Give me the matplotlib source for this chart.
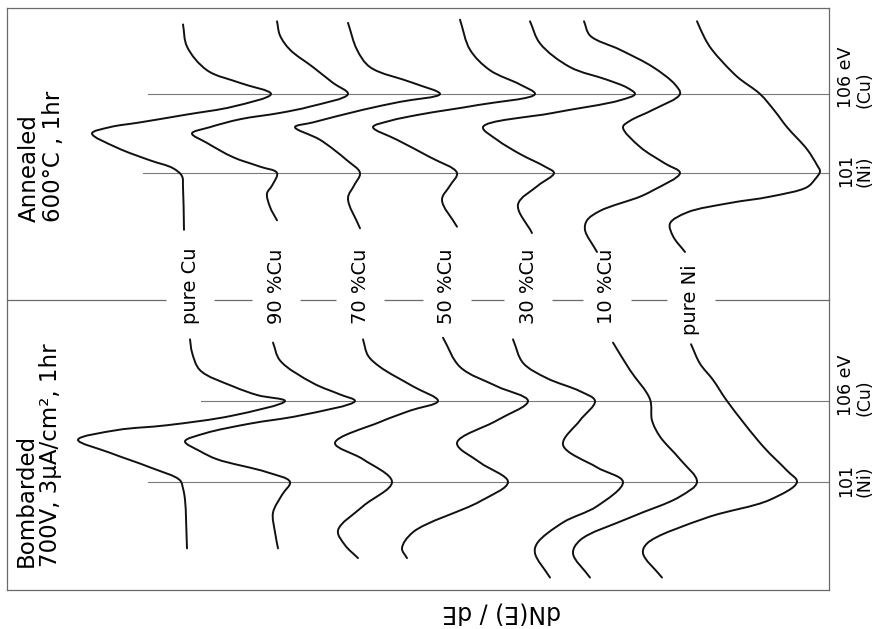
import numpy as np
import matplotlib
matplotlib.use("Agg")
import matplotlib.pyplot as plt
from matplotlib.path import Path
from matplotlib.patches import PathPatch

# Auger spectra, dN(E)/dE traces (x = signal with stacking offset, arb. units)
# energies in eV; one trace per alloy composition

compositions = ["pure Cu", "90 %Cu", "70 %Cu", "50 %Cu", "30 %Cu", "10 %Cu", "pure Ni"]
label_x = [190, 276, 360, 447, 528, 607, 691]
peak_energies = [106, 101]
peak_labels = ["106 eV\n(Cu)", "101\n(Ni)"]

# ---- annealed 600 C, 1 hr ----
ann_cu100_e = [110.4, 109.0, 107.5, 106.7, 106.0, 105.2, 104.7, 104.2, 103.9, 103.5, 102.6, 101.8, 101.3, 100.8, 100.1, 97.4]
ann_cu100_x = [183, 187, 207, 240, 271, 233, 187, 140, 110, 92, 117, 150, 173, 182, 183, 184]
ann_cu90_e = [110.6, 109.7, 108.8, 107.7, 106.7, 106.0, 105.2, 104.8, 104.4, 103.9, 103.5, 102.9, 102.0, 101.4, 101.0, 100.2, 99.7, 98.85, 98.0]
ann_cu90_x = [277, 280, 290, 313, 333, 348, 310, 280, 240, 210, 192, 207, 233, 260, 277, 272, 267, 270, 277]
ann_cu70_e = [110.5, 108.8, 107.7, 106.7, 106.0, 105.5, 105.0, 104.2, 103.9, 103.1, 101.8, 101.0, 100.2, 99.4, 97.5]
ann_cu70_x = [348, 357, 370, 413, 440, 400, 363, 313, 295, 320, 347, 360, 354, 348, 360]
ann_cu50_e = [110.7, 108.8, 107.5, 106.6, 106.0, 105.3, 104.7, 104.3, 103.9, 103.1, 102.0, 101.0, 100.2, 99.3, 97.6]
ann_cu50_x = [460, 470, 490, 520, 535, 478, 420, 390, 373, 397, 430, 457, 450, 442, 457]
ann_cu30_e = [110.6, 109.2, 107.7, 106.9, 106.4, 106.0, 105.6, 104.8, 103.9, 103.1, 102.2, 101.4, 101.0, 100.2, 99.0, 97.2]
ann_cu30_x = [530, 540, 570, 607, 627, 635, 620, 553, 483, 497, 520, 545, 554, 538, 518, 532]
ann_cu10_e = [110.6, 109.7, 108.8, 107.7, 106.6, 106.0, 105.0, 104.3, 103.9, 102.65, 101.6, 101.0, 99.9, 99.5, 98.6, 98.0, 97.4, 96.0]
ann_cu10_x = [584, 590, 620, 653, 675, 680, 653, 630, 623, 640, 665, 680, 653, 640, 600, 587, 585, 597]
ann_ni_e = [110.6, 109.5, 108.8, 107.1, 106.0, 104.9, 103.9, 102.5, 101.5, 101.1, 100.6, 100.1, 99.5, 99.1, 98.5, 97.8, 97.0, 96.0]
ann_ni_x = [697, 705, 712, 737, 760, 775, 787, 807, 817, 820, 815, 807, 770, 730, 687, 670, 673, 685]

# ---- bombarded 700 V, 3 uA/cm2, 1 hr ----
bom_cu100_e = [109.8, 109.0, 107.9, 106.9, 106.35, 106.0, 105.1, 104.5, 104.2, 103.6, 102.8, 101.9, 101.1, 100.6, 99.9, 96.9]
bom_cu100_x = [190, 192, 200, 233, 258, 285, 233, 167, 117, 78, 110, 150, 180, 183, 185, 187]
bom_cu90_e = [109.6, 108.5, 107.1, 106.4, 106.0, 105.1, 104.6, 104.0, 103.5, 102.9, 102.4, 101.6, 101.0, 100.2, 99.1, 97.9, 96.9]
bom_cu90_x = [273, 280, 313, 340, 355, 300, 250, 205, 185, 200, 217, 267, 290, 282, 273, 275, 278]
bom_cu70_e = [109.8, 108.8, 108.1, 106.9, 106.0, 105.4, 104.7, 103.4, 102.4, 101.0, 99.5, 98.0, 97.1, 96.3]
bom_cu70_x = [363, 368, 380, 413, 438, 410, 380, 335, 363, 392, 363, 338, 345, 358]
bom_cu50_e = [109.9, 108.1, 106.9, 106.0, 104.8, 103.4, 102.2, 101.0, 99.8, 97.9, 96.9, 96.3]
bom_cu50_x = [443, 460, 497, 528, 497, 457, 480, 508, 480, 413, 402, 407]
bom_cu30_e = [109.8, 108.35, 107.4, 106.6, 106.0, 104.8, 103.3, 101.9, 101.0, 99.5, 98.5, 97.2, 96.6, 95.1]
bom_cu30_x = [513, 523, 547, 580, 595, 580, 563, 597, 623, 597, 563, 537, 535, 550]
bom_cu10_e = [109.6, 107.9, 106.1, 104.8, 103.8, 102.4, 101.0, 100.1, 98.8, 97.4, 96.6, 95.1]
bom_cu10_x = [613, 630, 650, 652, 660, 680, 697, 680, 630, 580, 573, 590]
bom_ni_e = [109.5, 108.3, 107.3, 106.0, 103.2, 101.7, 101.0, 99.9, 98.8, 97.2, 96.6, 95.1]
bom_ni_x = [691, 700, 713, 727, 763, 787, 797, 770, 707, 647, 643, 662]

annealed = [(ann_cu100_x, ann_cu100_e), (ann_cu90_x, ann_cu90_e), (ann_cu70_x, ann_cu70_e),
            (ann_cu50_x, ann_cu50_e), (ann_cu30_x, ann_cu30_e), (ann_cu10_x, ann_cu10_e),
            (ann_ni_x, ann_ni_e)]
bombarded = [(bom_cu100_x, bom_cu100_e), (bom_cu90_x, bom_cu90_e), (bom_cu70_x, bom_cu70_e),
             (bom_cu50_x, bom_cu50_e), (bom_cu30_x, bom_cu30_e), (bom_cu10_x, bom_cu10_e),
             (bom_ni_x, bom_ni_e)]

frame_col = "#6a6a6a"
ref_col = "#7a7a7a"
xlim = (7, 829)
E_SCALE = 16.0  # roughly how many x units one eV spans on the page

fig = plt.figure(figsize=(8.75, 6.29), dpi=100)
ax_top = fig.add_axes([7 / 875, 1 - 300 / 629, 822 / 875, 292 / 629])
ax_bot = fig.add_axes([7 / 875, 1 - 590 / 629, 822 / 875, 290 / 629])


def setup(ax, ylim, hide):
    ax.set_xlim(*xlim)
    ax.set_ylim(*ylim)
    ax.set_xticks([])
    ax.set_yticks([])
    for s in ax.spines.values():
        s.set_color(frame_col)
        s.set_linewidth(0.9)
    ax.spines[hide].set_visible(False)
    ax.patch.set_alpha(0)


setup(ax_top, (92.96, 111.44), "bottom")
setup(ax_bot, (94.33, 112.23), "top")


def smooth_path(x, e):
    # centripetal catmull-rom handles -> cubic bezier path through the read points
    p = np.column_stack([x, np.asarray(e) * E_SCALE]).astype(float)
    q = np.vstack([2 * p[0] - p[1], p, 2 * p[-1] - p[-2]])
    verts = [p[0]]
    codes = [Path.MOVETO]
    for i in range(1, len(q) - 2):
        p0, p1, p2, p3 = q[i - 1], q[i], q[i + 1], q[i + 2]
        d1 = max(np.linalg.norm(p1 - p0), 1e-6) ** 0.5
        d2 = max(np.linalg.norm(p2 - p1), 1e-6) ** 0.5
        d3 = max(np.linalg.norm(p3 - p2), 1e-6) ** 0.5
        b1 = (d1 ** 2 * p2 - d2 ** 2 * p0 + (2 * d1 ** 2 + 3 * d1 * d2 + d2 ** 2) * p1) / (3 * d1 * (d1 + d2))
        b2 = (d3 ** 2 * p1 - d2 ** 2 * p3 + (2 * d3 ** 2 + 3 * d3 * d2 + d2 ** 2) * p2) / (3 * d3 * (d3 + d2))
        verts += [b1, b2, p2]
        codes += [Path.CURVE4] * 3
    verts = np.array(verts)
    verts[:, 1] /= E_SCALE
    return Path(verts, codes)


def draw_panel(ax, curves, line_starts):
    # reference lines for Ni (101 eV) and Cu (106 eV)
    for e, x0, lab in zip(peak_energies, line_starts, peak_labels):
        ax.plot([x0, xlim[1]], [e, e], color=ref_col, lw=0.8, zorder=1)
        ax.text(xlim[1] + 8, e - 0.9, lab, rotation=90, ha="left", va="bottom",
                multialignment="left", fontsize=12.5, clip_on=False, linespacing=1.05)
    for x, e in curves:
        ax.add_patch(PathPatch(smooth_path(x, e), fill=False, edgecolor="#111111",
                               lw=1.4, joinstyle="round", capstyle="round", zorder=3))


draw_panel(ax_top, annealed, [148, 143])
draw_panel(ax_bot, bombarded, [201, 148])

ax_top.text(18, 97.9, "Annealed\n600°C , 1hr", rotation=90, ha="left", va="bottom",
            multialignment="left", fontsize=16.5, linespacing=1.05)
ax_bot.text(15, 95.75, "Bombarded\n700V, 3μA/cm², 1hr", rotation=90, ha="left", va="bottom",
            multialignment="left", fontsize=16.5, linespacing=1.05)

# divider between the panels, broken where the composition labels sit
y_div = ax_bot.get_ylim()[1]
gap = 24
seg_start = [xlim[0]] + [lx + gap for lx in label_x]
seg_end = [lx - gap for lx in label_x] + [xlim[1]]
ax_bot.hlines([y_div] * len(seg_start), seg_start, seg_end, color=frame_col, lw=0.9,
              clip_on=False)

for lx, name in zip(label_x, compositions):
    yb = 110.07 if name == "pure Ni" else 110.75
    ax_bot.text(lx, yb, name, rotation=90, ha="center", va="bottom",
                fontsize=14, clip_on=False)

fig.text(502 / 875, 1 - 612 / 629, "dN(E) / dE", rotation=180, ha="center", va="center",
         fontsize=17)

fig.savefig("out.png", dpi=100)
